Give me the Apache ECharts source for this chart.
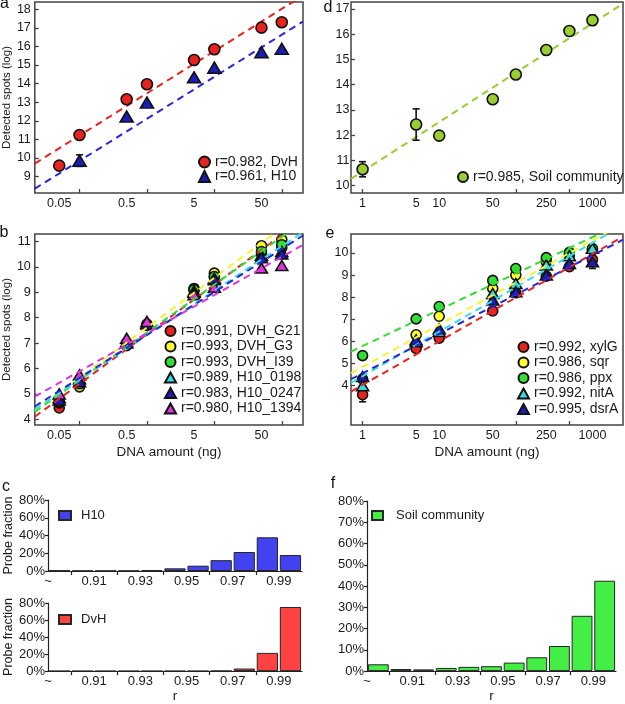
<!DOCTYPE html>
<html><head><meta charset="utf-8">
<script src="https://cdn.jsdelivr.net/npm/echarts@6/dist/echarts.min.js"></script>
<style>html,body{margin:0;padding:0;background:#fff}#c{width:625px;height:704px}</style>
</head><body><div id="c"></div>
<script>
// ================= DATA =================
// panels a, b: DNA amount (ng)
const amountsAB = [0.05, 0.1, 0.5, 1, 5, 10, 50, 100];
const abTickLabels = ['0.05', '0.5', '5', '50'];
const abMinorTicks = [0.1, 1, 10, 100];

const aNames = ['r=0.982, DvH', 'r=0.961, H10'];
const aDvH = [9.59, 11.24, 13.16, 13.97, 15.27, 15.85, 17.01, 17.30];
const aH10 = [null, 9.86, 12.23, 12.98, 14.34, 14.86, 15.69, 15.87];
const aH10Err = [0, 0.31, 0, 0, 0, 0, 0, 0];
const aFitSlope = [2.27, 2.26];
const aFitIntercept = [13.48, 12.11];

const bNames = ['r=0.991, DVH_G21', 'r=0.993, DVH_G3', 'r=0.993, DVH_I39',
                'r=0.989, H10_0198', 'r=0.983, H10_0247', 'r=0.980, H10_1394'];
const bG21   = [4.45, 5.35, 6.90, 7.70, 9.15, 9.60, 10.50, 10.75];
const bG3    = [4.65, 5.28, 7.00, 7.75, 9.10, 9.75, 10.83, 11.07];
const bI39   = [4.70, 5.40, 7.00, 7.72, 9.10, 9.62, 10.60, 10.87];
const bH0198 = [4.85, 5.60, 7.05, 7.78, 9.05, 9.55, 10.45, 10.60];
const bH0247 = [4.76, 5.48, 7.00, 7.75, 9.00, 9.49, 10.36, 10.50];
const bH1394 = [5.00, 5.75, 7.19, 7.85, 8.90, 9.20, 9.95, 10.05];
const bFitSlope = [1.95, 1.96, 1.88, 1.75, 1.69, 1.50];
const bFitIntercept = [7.35, 7.61, 7.42, 7.31, 7.32, 7.39];

// panels d, e: DNA amount (ng)
const amountsDE = [1, 5, 10, 50, 100, 250, 500, 1000];
const deTickLabels = ['1', '5', '10', '50', '250', '1000'];
const deMinorTicks = [1, 100, 500];

const dNames = ['r=0.985, Soil community'];
const dSoil = [10.65, 12.42, 11.98, 13.42, 14.40, 15.37, 16.12, 16.55];
const dSoilErr = [0.30, 0.62, 0, 0, 0, 0, 0, 0.20];
const dFitSlope = [1.954];
const dFitIntercept = [10.565];

const eNames = ['r=0.992, xylG', 'r=0.986, sqr', 'r=0.986, ppx', 'r=0.992, nitA', 'r=0.995, dsrA'];
const eXylG = [3.59, 5.68, 6.15, 7.38, 8.20, 8.95, 9.38, 9.70];
const eSqr  = [4.30, 6.30, 7.14, 8.40, 9.00, 9.60, 9.90, 10.15];
const ePpx  = [5.36, 7.02, 7.58, 8.76, 9.30, 9.79, 10.03, 10.20];
const eNitA = [4.00, 5.99, 6.45, 8.17, 8.62, 9.46, 9.88, 10.21];
const eDsrA = [4.41, 6.07, 6.57, 7.87, 8.25, 9.00, 9.53, 9.60];
const eXylGErr = [0.32, 0, 0, 0, 0, 0, 0, 0];
const eDsrAErr = [0, 0, 0, 0, 0, 0, 0, 0.30];
const eFitSlope = [1.975, 1.907, 1.643, 2.011, 1.778];
const eFitIntercept = [4.03, 4.85, 5.79, 4.43, 4.56];

// panels c, f: probe fraction (%) per r bin
const rBins = ['<0.90', '0.90-0.91', '0.91-0.92', '0.92-0.93', '0.93-0.94', '0.94-0.95',
               '0.95-0.96', '0.96-0.97', '0.97-0.98', '0.98-0.99', '0.99-1.00'];
const rTickLabels = ['~', '0.91', '0.93', '0.95', '0.97', '0.99'];
const cH10  = [0.6, 0.3, 0.3, 0.3, 0.8, 3.0, 6.0, 12.2, 21.4, 38.0, 18.0];
const cDvH  = [0, 0, 0, 0, 0, 0, 0, 0.3, 3.0, 21.4, 75.3];
const fSoil = [3.2, 1.0, 0.8, 1.5, 2.0, 2.3, 4.0, 6.5, 11.8, 26.0, 42.5];

// ================= CHART =================
const L = Math.log10;
const AB_EXT = [0.0217, 206.5];
const DE_EXT = [0.706, 2506];
const FONT = '"Liberation Sans", Arial, sans-serif';
const TXT = '#1a1a1a';
const BORDER = '#444';

function pairs(xs, ys) {
  const out = [];
  xs.forEach((x, i) => { if (ys[i] != null) out.push([L(x), ys[i]]); });
  return out;
}
function fitData(slope, icpt, ext) {
  return ext.map(a => [L(a), icpt + slope * L(a)]);
}
function logLabelFormatter(labels) {
  return v => {
    for (const s of labels) if (Math.abs(L(parseFloat(s)) - v) < 1e-6) return s;
    return '';
  };
}
function scatter(name, xi, xs, ys, color, symbol, size, z) {
  return {
    type: 'scatter', name, xAxisIndex: xi, yAxisIndex: xi, data: pairs(xs, ys),
    symbol, symbolSize: size, z: z,
    itemStyle: { color, borderColor: '#111', borderWidth: 1.6, opacity: 1 },
    silent: true
  };
}
function fitLine(xi, slope, icpt, ext, color, z) {
  return {
    type: 'line', xAxisIndex: xi, yAxisIndex: xi, data: fitData(slope, icpt, ext),
    symbol: 'none', silent: true, z: z, clip: true,
    lineStyle: { color, width: 2, type: [7, 5] }
  };
}
function errBars(xi, xs, ys, errs, z) {
  const data = [];
  xs.forEach((x, i) => { if (errs[i]) data.push([L(x), ys[i] - errs[i], ys[i] + errs[i]]); });
  return {
    type: 'custom', xAxisIndex: xi, yAxisIndex: xi, data, z: z, silent: true,
    encode: { x: 0, y: [1, 2] },
    renderItem(params, api) {
      const x = api.value(0);
      const lo = api.coord([x, api.value(1)]);
      const hi = api.coord([x, api.value(2)]);
      const w = 3.5, st = { stroke: '#111', lineWidth: 1.6 };
      return { type: 'group', children: [
        { type: 'line', shape: { x1: lo[0], y1: lo[1], x2: hi[0], y2: hi[1] }, style: st },
        { type: 'line', shape: { x1: lo[0] - w, y1: lo[1], x2: lo[0] + w, y2: lo[1] }, style: st },
        { type: 'line', shape: { x1: hi[0] - w, y1: hi[1], x2: hi[0] + w, y2: hi[1] }, style: st }
      ] };
    }
  };
}
function logXAxis(gi, ext, labels, minor, name) {
  return {
    type: 'value', gridIndex: gi, position: 'bottom', min: L(ext[0]), max: L(ext[1]),
    splitLine: { show: false }, axisLine: { show: false, onZero: false },
    axisTick: { show: true, inside: true, length: 4, customValues: minor.map(L),
                lineStyle: { color: BORDER, width: 1.3 } },
    axisLabel: { customValues: labels.map(s => L(parseFloat(s))), formatter: logLabelFormatter(labels),
                 fontSize: 12.5, color: TXT, margin: 4, fontFamily: FONT },
    name: name || '', nameLocation: 'middle', nameGap: 20,
    nameTextStyle: { fontSize: 13.5, color: TXT, fontFamily: FONT }
  };
}
function linYAxis(gi, min, max, labels, name, margin) {
  return {
    type: 'value', gridIndex: gi, min, max,
    splitLine: { show: false }, axisLine: { show: false, onZero: false },
    axisTick: { show: true, inside: true, length: 4, customValues: labels,
                lineStyle: { color: BORDER, width: 1.3 } },
    axisLabel: { customValues: labels, fontSize: 12.5, color: TXT, margin: margin, fontFamily: FONT },
    name: name || '', nameLocation: 'middle', nameGap: 17,
    nameTextStyle: { fontSize: 11.5, color: TXT, fontFamily: FONT }
  };
}
function catXAxis(gi) {
  return { type: 'category', gridIndex: gi, position: 'bottom', data: rBins,
    axisLine: { show: false, onZero: false }, axisTick: { show: false }, axisLabel: { show: false } };
}
function binXAxis(gi, name) {
  return {
    type: 'value', gridIndex: gi, position: 'bottom', min: 0, max: rBins.length,
    splitLine: { show: false },
    axisLine: { show: true, onZero: false, lineStyle: { color: '#222', width: 1.2 } },
    axisTick: { show: true, inside: false, length: 4, customValues: [1, 3, 5, 7, 9],
                lineStyle: { color: '#222', width: 1.2 } },
    axisLabel: { customValues: [0, 2, 4, 6, 8, 10], formatter: v => rTickLabels[Math.round(v / 2)],
                 fontSize: 13, color: TXT, margin: 4, fontFamily: FONT },
    name: name || '', nameLocation: 'middle', nameGap: 17,
    nameTextStyle: { fontSize: 13.5, color: TXT, fontFamily: FONT }
  };
}
function pctYAxis(gi, interval, name) {
  return {
    type: 'value', gridIndex: gi, min: 0, max: 80, interval,
    splitLine: { show: false },
    axisLine: { show: true, onZero: false, lineStyle: { color: '#222', width: 1.2 } },
    axisTick: { show: true, inside: false, length: 3, lineStyle: { color: '#222', width: 1.2 } },
    axisLabel: { formatter: '{value}%', fontSize: 13, color: TXT, margin: 3, fontFamily: FONT },
    name: name || '', nameLocation: 'middle', nameGap: 31,
    nameTextStyle: { fontSize: 12.5, color: TXT, fontFamily: FONT }
  };
}
function bars(name, xi, yi, values, color) {
  return { type: 'bar', name, xAxisIndex: xi, yAxisIndex: yi, data: values,
    barCategoryGap: '8%', silent: true,
    itemStyle: { color, borderColor: '#262626', borderWidth: 1 } };
}
function legend(names, left, top, gap, iw, ih, fs, extra) {
  return Object.assign({
    data: names, orient: 'vertical', left, top, itemGap: gap, itemWidth: iw, itemHeight: ih,
    padding: 0, selectedMode: false, textStyle: { fontSize: fs, color: TXT, fontFamily: FONT }
  }, extra || {});
}
const gridBox = { show: true, borderColor: BORDER, borderWidth: 1.5, backgroundColor: '#fff' };

const RED = '#e8231f', YEL = '#ffff30', GRN = '#33dd33', CYN = '#38dede', BLU = '#1c1cb8', MAG = '#dd33dd';
const BLUL = '#2626d9';

const series = [];
// ---- panel a (grid 0)
series.push(fitLine(0, aFitSlope[0], aFitIntercept[0], AB_EXT, RED, 2));
series.push(fitLine(0, aFitSlope[1], aFitIntercept[1], AB_EXT, BLUL, 2));
series.push(errBars(0, amountsAB, aH10, aH10Err, 3));
series.push(scatter(aNames[0], 0, amountsAB, aDvH, RED, 'circle', 11, 4));
series.push(scatter(aNames[1], 0, amountsAB, aH10, BLU, 'triangle', [13, 11], 4));
// ---- panel b (grid 1)
const bVals = [bG21, bG3, bI39, bH0198, bH0247, bH1394];
const bCols = [RED, YEL, GRN, CYN, BLU, MAG];
const bLineCols = [RED, '#f4f430', GRN, CYN, BLUL, MAG];
const bSyms = ['circle', 'circle', 'circle', 'triangle', 'triangle', 'triangle'];
bVals.forEach((v, i) => series.push(scatter(bNames[i], 1, amountsAB, v, bCols[i], bSyms[i],
  bSyms[i] === 'circle' ? 10 : [12, 10], 3)));
bVals.forEach((v, i) => series.push(fitLine(1, bFitSlope[i], bFitIntercept[i], AB_EXT, bLineCols[i], 5)));
// ---- panel d (grid 2)
series.push(fitLine(2, dFitSlope[0], dFitIntercept[0], DE_EXT, '#9acd32', 2));
series.push(errBars(2, amountsDE, dSoil, dSoilErr, 3));
series.push(scatter(dNames[0], 2, amountsDE, dSoil, '#9acd32', 'circle', 11, 4));
// ---- panel e (grid 3)
const eVals = [eXylG, eSqr, ePpx, eNitA, eDsrA];
const eCols = [RED, YEL, GRN, CYN, BLU];
const eLineCols = [RED, '#f4f430', GRN, CYN, BLUL];
const eSyms = ['circle', 'circle', 'circle', 'triangle', 'triangle'];
series.push(errBars(3, amountsDE, eXylG, eXylGErr, 1));
series.push(errBars(3, amountsDE, eDsrA, eDsrAErr, 1));
eVals.forEach((v, i) => series.push(scatter(eNames[i], 3, amountsDE, v, eCols[i], eSyms[i],
  eSyms[i] === 'circle' ? 10 : [12, 10], 3)));
eVals.forEach((v, i) => series.push(fitLine(3, eFitSlope[i], eFitIntercept[i], DE_EXT, eLineCols[i], 5)));
// ---- panel c, f bars
series.push(bars('H10', 4, 4, cH10, '#4242f0'));
series.push(bars('DvH', 6, 5, cDvH, '#ff4242'));
series.push(bars('Soil community', 8, 6, fSoil, '#44ee44'));

const legText = pad => ({ textStyle: { fontSize: 13, color: TXT, fontFamily: FONT, padding: [0, 0, 0, pad] } });

const option = {
  animation: false,
  backgroundColor: '#fff',
  textStyle: { fontFamily: FONT },
  grid: [
    Object.assign({ left: 32, top: 2, width: 271, height: 191 }, gridBox),      // a
    Object.assign({ left: 32, top: 234, width: 271, height: 191 }, gridBox),    // b
    Object.assign({ left: 351, top: 2, width: 272, height: 191 }, gridBox),     // d
    Object.assign({ left: 351, top: 234, width: 272, height: 191 }, gridBox),   // e
    { left: 48, top: 500, width: 254, height: 71 },                             // c1
    { left: 48, top: 603, width: 254, height: 72 },                             // c2
    { left: 367, top: 501, width: 249, height: 175 }                            // f
  ],
  xAxis: [
    logXAxis(0, AB_EXT, abTickLabels, abMinorTicks),
    logXAxis(1, AB_EXT, abTickLabels, abMinorTicks, 'DNA amount (ng)'),
    logXAxis(2, DE_EXT, deTickLabels, deMinorTicks),
    logXAxis(3, DE_EXT, deTickLabels, deMinorTicks, 'DNA amount (ng)'),
    catXAxis(4), binXAxis(4),
    catXAxis(5), binXAxis(5, 'r'),
    catXAxis(6), binXAxis(6, 'r')
  ],
  yAxis: [
    linYAxis(0, 8.12, 18.39, [9, 10, 11, 12, 13, 14, 15, 16, 17, 18], 'Detected spots (log)', 4),
    linYAxis(1, 3.78, 11.29, [4, 5, 6, 7, 8, 9, 10, 11], 'Detected spots (log)', 4),
    linYAxis(2, 9.71, 17.27, [10, 11, 12, 13, 14, 15, 16, 17], '', 1.5),
    linYAxis(3, 2.22, 10.86, [4, 5, 6, 7, 8, 9, 10], '', 2.5),
    pctYAxis(4, 20, 'Probe fraction'), pctYAxis(5, 20, 'Probe fraction'), pctYAxis(6, 10)
  ],
  legend: [
    legend(aNames, 198, 155, 0.5, 11, 11, 14),
    legend(bNames, 164, 324, 1.5, 11, 10, 14),
    legend(dNames, 457, 170, 1, 10, 10, 14),
    legend(eNames, 517, 340, 1.5, 11, 10, 14),
    legend([{ name: 'H10', icon: 'rect' }], 58, 509, 1, 12, 9, 13, legText(5)),
    legend([{ name: 'DvH', icon: 'rect' }], 58, 613, 1, 12, 9, 13, legText(5)),
    legend([{ name: 'Soil community', icon: 'rect' }], 371, 509, 1, 11, 9, 13, legText(8))
  ],
  graphic: [
    ['a', 4.5, 4], ['b', 4, 233], ['c', 6, 487], ['d', 328, 8], ['e', 330, 233.5], ['f', 333, 484]
  ].map(([t, x, y]) => ({ type: 'text', x, y, silent: true,
      style: { text: t, fontSize: 16, fontFamily: FONT, fill: '#111', align: 'center', verticalAlign: 'middle' } })),
  series
};

const chart = echarts.init(document.getElementById('c'), null, { renderer: 'canvas' });
chart.setOption(option);
</script>
</body></html>
